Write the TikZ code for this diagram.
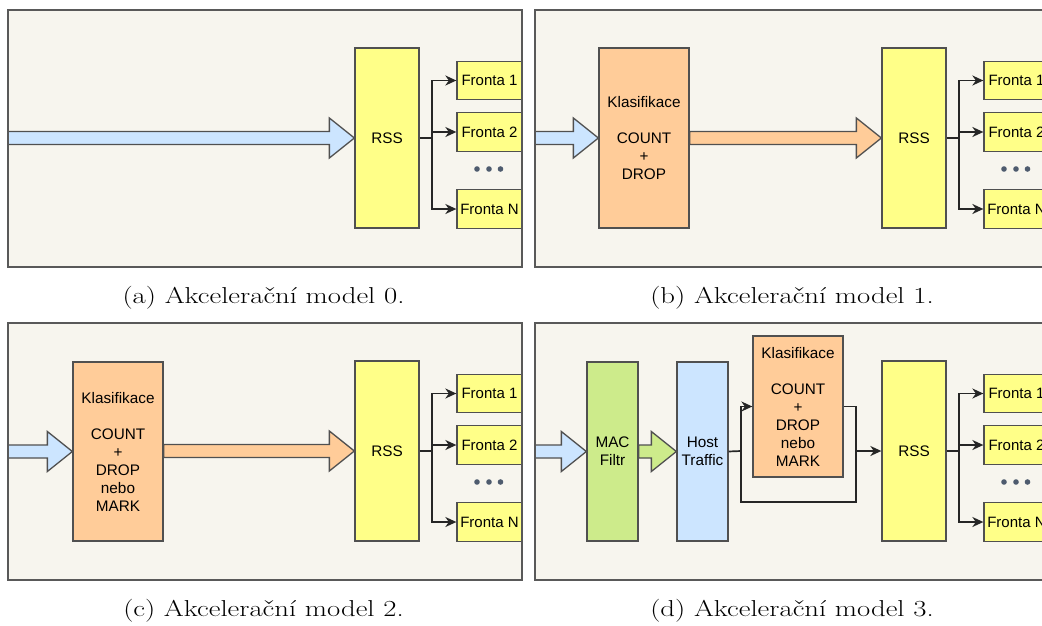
\documentclass[tikz,border=0pt]{standalone}
\usepackage{fontspec}
\setsansfont{Liberation Sans}
\usetikzlibrary{arrows.meta,calc}

\definecolor{panelbg}{HTML}{F7F5EE}
\definecolor{panelline}{HTML}{595959}
\definecolor{boxline}{HTML}{505050}
\definecolor{yellowc}{HTML}{FFFF88}
\definecolor{orangec}{HTML}{FFCC99}
\definecolor{bluec}{HTML}{CCE5FF}
\definecolor{greenc}{HTML}{CDEB8B}
\definecolor{dotc}{HTML}{4E5B6E}

\tikzset{
  panel/.style={fill=panelbg, draw=panelline, line width=1.8pt},
  panelrim/.style={draw=panelline, line width=1.8pt},
  blk/.style={draw=boxline, line width=1.3pt, align=center, inner sep=0pt,
    font=\sffamily\fontsize{15.3}{18}\selectfont},
  rssbox/.style={blk, fill=yellowc, minimum width=64pt, minimum height=180pt},
  queue/.style={blk, fill=yellowc, minimum width=65pt, minimum height=38.5pt,
    font=\sffamily\fontsize{15}{17}\selectfont},
  conn/.style={draw=black!85, line width=1.7pt},
  arr/.style={conn, -{Stealth[length=11pt,width=10pt,inset=3.5pt]}},
  fat/.style={draw=boxline, line width=1.3pt, line join=miter},
  capt/.style={font=\fontsize{23}{26}\selectfont, inner sep=0pt}
}

% RSS block with its queues; #1 name prefix, (#2,#3) panel offset
\newcommand\rssgroup[3]{%
  \begin{scope}[shift={(#2,#3)}]
    \node[rssbox] (#1rss) at (387,138) {RSS};
    \node[queue] (#1q1) at (489.5,80.5) {Fronta 1};
    \node[queue] (#1q2) at (489.5,132) {Fronta 2};
    \node[queue] (#1qn) at (489.5,209) {Fronta N};
    \coordinate (#1br) at (432,138);
    \fill[dotc] (477,169) circle (2.8pt) (489,169) circle (2.8pt) (500.5,169) circle (2.8pt);
  \end{scope}
  \draw[conn] (#1rss.east) -- (#1br);
  \draw[arr] (#1br) |- (#1q1.west);
  \draw[arr] (#1br) |- (#1q2.west);
  \draw[arr] (#1br) |- (#1qn.west);
}

% wide block arrow from tail #2 to tip #3, filled with #1
\newcommand\fatarrow[3]{%
  \draw[fat, fill=#1] let \p1=(#2), \p2=(#3) in
    (\x1,\y2+6.5pt) -- (\x2-25pt,\y2+6.5pt) -- (\x2-25pt,\y2+20pt) -- (\x2,\y2)
    -- (\x2-25pt,\y2-20pt) -- (\x2-25pt,\y2-6.5pt) -- (\x1,\y2-6.5pt) -- cycle;
}

% caption text, set a little wider than its natural width
\newcommand\captext[1]{\scalebox{1.25}[1]{#1}}

\begin{document}
\begin{tikzpicture}[x=1pt,y=-1pt]
  \clip (0,0) rectangle (1042,626);
  \fill[white] (0,0) rectangle (1042,626);

  % panel frames
  \path[panel] (8,10) rectangle (522,267);
  \path[panel] (535,10) rectangle (1049,267);
  \path[panel] (8,323) rectangle (522,580);
  \path[panel] (535,323) rectangle (1049,580);

  % (a) model 0
  \rssgroup{a}{0}{0}
  \coordinate (ain) at (8,138);
  \fatarrow{bluec}{ain}{arss.west}

  % (b) model 1
  \rssgroup{b}{527}{0}
  \node[blk, fill=orangec, minimum width=90pt, minimum height=180pt] (bklas) at (644,138)
    {Klasifikace\\[18pt]COUNT\\+\\DROP};
  \coordinate (bin) at (535,138);
  \fatarrow{bluec}{bin}{bklas.west}
  \fatarrow{orangec}{bklas.east}{brss.west}

  % (c) model 2
  \rssgroup{c}{0}{313}
  \node[blk, fill=orangec, minimum width=90pt, minimum height=179pt] (cklas) at (118,451.5)
    {Klasifikace\\[18pt]COUNT\\+\\DROP\\nebo\\MARK};
  \coordinate (cin) at (8,451);
  \fatarrow{bluec}{cin}{cklas.west}
  \fatarrow{orangec}{cklas.east}{crss.west}

  % (d) model 3
  \rssgroup{d}{527}{313}
  \node[blk, fill=greenc, minimum width=51pt, minimum height=179pt] (dmac) at (612.5,451.5)
    {MAC\\Filtr};
  \node[blk, fill=bluec, minimum width=51pt, minimum height=179pt] (dhost) at (702.5,451.5)
    {Host\\Traffic};
  \node[blk, fill=orangec, minimum width=90pt, minimum height=141pt] (dklas) at (798,406.5)
    {Klasifikace\\[18pt]COUNT\\+\\DROP\\nebo\\MARK};
  \coordinate (din) at (535,451);
  \fatarrow{bluec}{din}{dmac.west}
  \fatarrow{greenc}{dmac.east}{dhost.west}
  \coordinate (dsa) at (741,451);
  \coordinate (dsb) at (856,451);
  \coordinate (dla) at (741,502);
  \coordinate (dlb) at (856,502);
  \draw[conn] (dhost.east) -- (dsa);
  \draw[arr] (dsa) |- (dklas.west);
  \draw[conn] (dsa) -- (dla) -- (dlb) -- (dsb);
  \draw[conn] (dklas.east) -| (dsb);
  \draw[arr] (dsb) -- (drss.west);

  % frame rims on top
  \path[panelrim] (8,10) rectangle (522,267);
  \path[panelrim] (535,10) rectangle (1049,267);
  \path[panelrim] (8,323) rectangle (522,580);
  \path[panelrim] (535,323) rectangle (1049,580);

  % captions
  \node[capt] (capa) at (263.5,298) {\captext{(a) Akcelerační model 0.}};
  \node[capt] (capb) at (792,298) {\captext{(b) Akcelerační model 1.}};
  \node[capt] (capc) at (263.5,611) {\captext{(c) Akcelerační model 2.}};
  \node[capt] (capd) at (792,611) {\captext{(d) Akcelerační model 3.}};
\end{tikzpicture}
\end{document}
